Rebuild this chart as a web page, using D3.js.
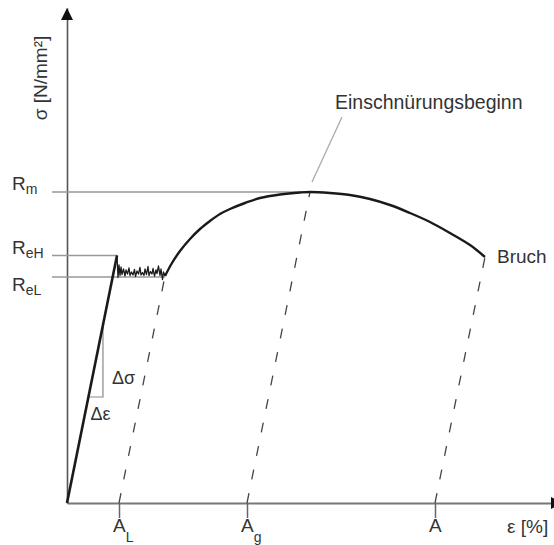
<!DOCTYPE html>
<html>
<head>
<meta charset="utf-8">
<script src="https://cdn.jsdelivr.net/npm/d3@7"></script>
<style>
  body { margin: 0; background: #fff; }
  svg { display: block; }
  text { font-family: "Liberation Sans", Arial, Helvetica, sans-serif; fill: #333; }
</style>
</head>
<body>
<svg id="chart" width="554" height="545"></svg>
<script>
// Spannungs-Dehnungs-Diagramm (schematisch), Dehnung in %, Spannung in N/mm²

// elastic range up to the upper yield point
const elasticStrain = [0, 5.0];
const elasticStress = [0, 495];

// yield plateau (Lüders band), serrated
const plateauStrain = [5.0, 5.1, 5.2, 5.3, 5.4, 5.5, 5.65, 5.8, 5.9, 6.05, 6.2, 6.3, 6.45, 6.6,
  6.75, 6.85, 7.0, 7.15, 7.3, 7.4, 7.55, 7.7, 7.8, 7.95, 8.1, 8.2, 8.35, 8.5, 8.6, 8.75,
  8.9, 9.0, 9.15, 9.3, 9.4, 9.55, 9.65, 9.8];
const plateauStress = [495, 451, 476, 455, 472, 457, 468, 454, 466, 458, 470, 455, 462, 456,
  467, 453, 464, 458, 471, 456, 461, 455, 468, 457, 473, 455, 463, 458, 469, 454,
  466, 459, 474, 455, 468, 447, 462, 454];

// strain hardening up to Rm, then necking down to fracture
const hardeningStrain = [9.8, 10.5, 11.3, 12.3, 13.3, 14.3, 15.3, 16.3, 17.8, 19.3, 21.3,
  23.3, 24.3, 26.3, 28.3, 30.3, 32.3, 34.3, 36.3, 38.3, 40.3, 41.8];
const hardeningStress = [454, 480, 504, 528, 548, 564, 578, 588, 600, 610, 617,
  621, 622, 620, 616, 608, 596, 580, 562, 540, 516, 492];

// characteristic stress levels
const levelMain = ["R", "R", "R"];
const levelSub = ["m", "eH", "eL"];
const levelStress = [622, 495, 452];
const levelEndStrain = [24.3, 5.0, 9.8];

// elastic unloading lines and the strains they mark on the axis
const unloadStrain = [9.8, 24.3, 41.8];
const unloadStress = [454, 622, 492];
const tickMain = ["A", "A", "A"];
const tickSub = ["L", "g", ""];
const tickStrain = [5.2, 18.0, 36.8];

// slope triangle on the Hooke line (stress at lower / upper corner)
const slopeStress = [212, 356];
const modulus = elasticStress[1] / elasticStrain[1];

const svg = d3.select("#chart");
const x = d3.scaleLinear().domain([0, 50]).range([67, 567]);
const y = d3.scaleLinear().domain([0, 990]).range([503, 8]);
const fontSize = 19, subSize = 14;

// axes
const xAxis = d3.axisBottom(x).tickValues(tickStrain).tickSize(15).tickSizeOuter(0).tickFormat("");
const gx = svg.append("g").attr("transform", `translate(0,${y(0)})`).call(xAxis);
gx.select(".domain").attr("stroke", "#777").attr("stroke-width", 2);
gx.selectAll(".tick line").attr("stroke", "#666").attr("stroke-width", 1.5);

const yAxis = d3.axisLeft(y).tickValues([]).tickSizeOuter(0);
const gy = svg.append("g").attr("transform", `translate(${x(0)},0)`).call(yAxis);
gy.select(".domain").attr("stroke", "#555").attr("stroke-width", 1.6);

// arrow heads
svg.append("path")
  .attr("d", `M${x(0)},${y(990)}L${x(0) - 6},${y(990) + 12}L${x(0) + 6},${y(990) + 12}Z`)
  .attr("fill", "#111");
svg.append("path")
  .attr("d", `M${551},${y(0) - 6}L${563},${y(0)}L${551},${y(0) + 6}Z`)
  .attr("fill", "#111");

// horizontal reference lines for Rm, ReH, ReL
svg.selectAll("line.level").data(levelStress).join("line")
  .attr("class", "level")
  .attr("x1", 52).attr("x2", (d, i) => x(levelEndStrain[i]))
  .attr("y1", d => y(d)).attr("y2", d => y(d))
  .attr("stroke", "#999").attr("stroke-width", 1.6);

// level labels with subscripts
const lvl = svg.selectAll("text.level").data(levelStress).join("text")
  .attr("class", "level")
  .attr("x", 12).attr("y", (d, i) => y(d) - (i === 2 ? -14 : 2))
  .attr("font-size", fontSize);
lvl.append("tspan").text((d, i) => levelMain[i]);
lvl.append("tspan").attr("font-size", subSize).attr("dy", 4).text((d, i) => levelSub[i]);

// dashed unloading lines parallel to the Hooke line
svg.selectAll("line.unload").data(tickStrain).join("line")
  .attr("class", "unload")
  .attr("x1", d => x(d)).attr("y1", y(0))
  .attr("x2", (d, i) => x(unloadStrain[i])).attr("y2", (d, i) => y(unloadStress[i]))
  .attr("stroke", "#444").attr("stroke-width", 1.3)
  .attr("stroke-dasharray", "10,14");

// axis labels under the ticks
const tl = svg.selectAll("text.tick").data(tickStrain).join("text")
  .attr("class", "tick")
  .attr("x", d => x(d) - 6).attr("y", 532)
  .attr("font-size", fontSize);
tl.append("tspan").text((d, i) => tickMain[i]);
tl.append("tspan").attr("font-size", subSize).attr("dy", 10).text((d, i) => tickSub[i]);

// slope triangle
const e0 = slopeStress[0] / modulus, e1 = slopeStress[1] / modulus;
svg.append("path")
  .attr("d", `M${x(e0)},${y(slopeStress[0])}H${x(e1)}V${y(slopeStress[1])}`)
  .attr("fill", "none").attr("stroke", "#888").attr("stroke-width", 1.2);
svg.append("text").attr("x", x(e1) + 9).attr("y", y(slopeStress[0]) - 13)
  .attr("font-size", 18).text("Δσ");
svg.append("text").attr("x", x(e0) + 2).attr("y", y(slopeStress[0]) + 23)
  .attr("font-size", 18).text("Δε");

// curve
const line = d3.line().x(d => x(d[0])).y(d => y(d[1]));
svg.append("path")
  .datum(d3.zip(elasticStrain, elasticStress))
  .attr("d", line).attr("fill", "none")
  .attr("stroke", "#1a1a1a").attr("stroke-width", 2.6);
svg.append("path")
  .datum(d3.zip(plateauStrain, plateauStress))
  .attr("d", line).attr("fill", "none")
  .attr("stroke", "#1a1a1a").attr("stroke-width", 1.3).attr("stroke-linejoin", "round");
svg.append("path")
  .datum(d3.zip(hardeningStrain, hardeningStress))
  .attr("d", line.curve(d3.curveCatmullRom)).attr("fill", "none")
  .attr("stroke", "#1a1a1a").attr("stroke-width", 2.4);

// annotations
const px = x(levelEndStrain[0]), py = y(levelStress[0]);
svg.append("line")
  .attr("x1", px + 2).attr("y1", py - 10).attr("x2", px + 32).attr("y2", py - 75)
  .attr("stroke", "#aaa").attr("stroke-width", 1.3);
svg.append("text").attr("x", px + 25).attr("y", py - 83)
  .attr("font-size", 19.5).text("Einschnürungsbeginn");
const bx = x(hardeningStrain[hardeningStrain.length - 1]);
const by = y(hardeningStress[hardeningStress.length - 1]);
svg.append("text").attr("x", bx + 12).attr("y", by + 6)
  .attr("font-size", fontSize).text("Bruch");

// axis titles
svg.append("text")
  .attr("transform", `translate(47,78) rotate(-90)`)
  .attr("text-anchor", "middle").attr("font-size", fontSize)
  .text("σ [N/mm²]");
svg.append("text").attr("x", 507).attr("y", 533)
  .attr("font-size", fontSize).text("ε [%]");
</script>
</body>
</html>
